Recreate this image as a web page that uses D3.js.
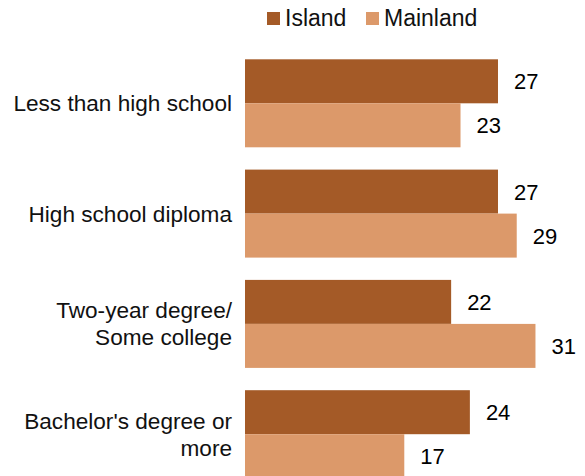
<!DOCTYPE html>
<html><head><meta charset="utf-8">
<script src="https://cdn.jsdelivr.net/npm/d3@7"></script>
<style>
html,body{margin:0;padding:0;background:#fff;}
svg{display:block;font-family:"Liberation Sans",Arial,sans-serif;}
</style></head>
<body><svg id="c" width="585" height="476"></svg>
<script>
const categories = [["Less than high school"],["High school diploma"],["Two-year degree/","Some college"],["Bachelor's degree or","more"]];
const seriesNames = ["Island","Mainland"];
const island = [27,27,22,24];
const mainland = [23,29,31,17];
const colors = ["#a45a27","#dc996a"];

const svg = d3.select("#c");
const x0 = 245;
const x = d3.scaleLinear().domain([0,31]).range([x0, x0 + 31*9.37]);
const yb = i => 59.3 + i*110.3;
const inner = d3.scaleBand().domain(seriesNames).range([0,88]);
const series = [island, mainland];

const g = svg.append("g");
categories.forEach((cat,i)=>{
  series.forEach((vals,s)=>{
    const yy = yb(i) + inner(seriesNames[s]);
    g.append("rect").attr("x",x(0)).attr("y",yy).attr("width",x(vals[i])-x(0)).attr("height",inner.bandwidth()).attr("fill",colors[s]);
    g.append("text").attr("x",x(vals[i])+16).attr("y",yy+inner.bandwidth()/2+8)
      .attr("font-size",22).attr("fill","#000").text(vals[i]);
  });
  const cy = yb(i)+44;
  const n = cat.length;
  cat.forEach((line,k)=>{
    g.append("text").attr("x",232).attr("y",cy + 8 + (k-(n-1)/2)*27)
      .attr("text-anchor","end").attr("font-size",22.6).attr("fill","#111").text(line);
  });
});

// legend
const leg = svg.append("g");
const legX = [267,366];
seriesNames.forEach((nm,s)=>{
  leg.append("rect").attr("x",legX[s]).attr("y",12).attr("width",13).attr("height",13).attr("fill",colors[s]);
  leg.append("text").attr("x",legX[s]+18).attr("y",26).attr("font-size",23).attr("fill","#111").text(nm);
});
</script></body></html>
